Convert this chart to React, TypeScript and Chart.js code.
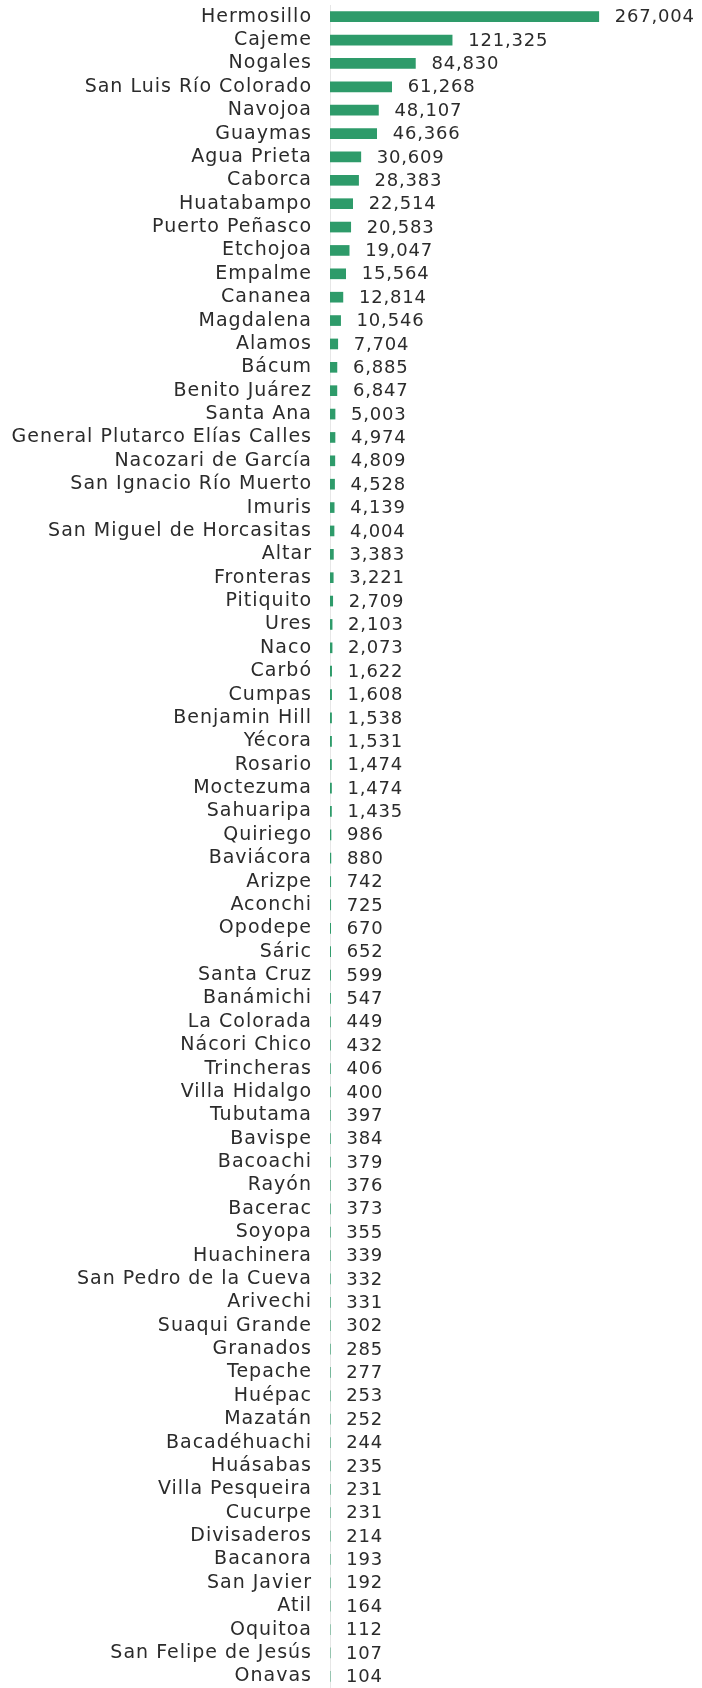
import React, { useEffect, useRef } from "react";
import { Chart, registerables } from "chart.js";

Chart.register(...registerables);

const municipios: string[] = [
  "Hermosillo", "Cajeme", "Nogales", "San Luis Río Colorado", "Navojoa", "Guaymas",
  "Agua Prieta", "Caborca", "Huatabampo", "Puerto Peñasco", "Etchojoa", "Empalme",
  "Cananea", "Magdalena", "Alamos", "Bácum", "Benito Juárez", "Santa Ana",
  "General Plutarco Elías Calles", "Nacozari de García", "San Ignacio Río Muerto", "Imuris",
  "San Miguel de Horcasitas", "Altar", "Fronteras", "Pitiquito", "Ures", "Naco",
  "Carbó", "Cumpas", "Benjamin Hill", "Yécora", "Rosario", "Moctezuma",
  "Sahuaripa", "Quiriego", "Baviácora", "Arizpe", "Aconchi", "Opodepe",
  "Sáric", "Santa Cruz", "Banámichi", "La Colorada", "Nácori Chico", "Trincheras",
  "Villa Hidalgo", "Tubutama", "Bavispe", "Bacoachi", "Rayón", "Bacerac",
  "Soyopa", "Huachinera", "San Pedro de la Cueva", "Arivechi", "Suaqui Grande", "Granados",
  "Tepache", "Huépac", "Mazatán", "Bacadéhuachi", "Huásabas", "Villa Pesqueira",
  "Cucurpe", "Divisaderos", "Bacanora", "San Javier", "Atil", "Oquitoa",
  "San Felipe de Jesús", "Onavas",
];

const poblacion: number[] = [
  267004, 121325, 84830, 61268, 48107, 46366,
  30609, 28383, 22514, 20583, 19047, 15564,
  12814, 10546, 7704, 6885, 6847, 5003,
  4974, 4809, 4528, 4139, 4004, 3383,
  3221, 2709, 2103, 2073, 1622, 1608,
  1538, 1531, 1474, 1474, 1435, 986,
  880, 742, 725, 670, 652, 599,
  547, 449, 432, 406, 400, 397,
  384, 379, 376, 373, 355, 339,
  332, 331, 302, 285, 277, 253,
  252, 244, 235, 231, 231, 214,
  193, 192, 164, 112, 107, 104,
];

const BAR_COLOR = "#2e9b6a";
const TEXT_COLOR = "#2b2b2b";
const FONT_FAMILY = '"DejaVu Sans", sans-serif';

const fmt = (v: number) => v.toLocaleString("en-US");

const spacingPlugin = {
  id: "spacing",
  beforeDraw(chart: any) {
    chart.ctx.letterSpacing = "1px";
  },
};

const valueLabels = {
  id: "valueLabels",
  afterDatasetsDraw(chart: any) {
    const ctx = chart.ctx;
    const meta = chart.getDatasetMeta(0);
    ctx.save();
    ctx.font = `18px ${FONT_FAMILY}`;
    ctx.letterSpacing = "0.8px";
    ctx.fillStyle = TEXT_COLOR;
    ctx.textAlign = "left";
    ctx.textBaseline = "middle";
    meta.data.forEach((bar: any, i: number) => {
      ctx.fillText(fmt(poblacion[i]), bar.x + 16, bar.y + 1);
    });
    ctx.restore();
  },
};

export default function App() {
  const ref = useRef<HTMLCanvasElement | null>(null);

  useEffect(() => {
    if (!ref.current) return;
    const chart = new Chart(ref.current, {
      type: "bar",
      data: {
        labels: municipios,
        datasets: [
          {
            data: poblacion,
            backgroundColor: BAR_COLOR,
            barThickness: 10,
            borderWidth: 0,
          },
        ],
      },
      options: {
        indexAxis: "y",
        animation: false,
        responsive: false,
        devicePixelRatio: 1,
        layout: { padding: { top: 5, bottom: 0, left: 0, right: 70 } },
        plugins: {
          legend: { display: false },
          tooltip: { enabled: false },
        },
        scales: {
          x: {
            display: false,
            min: 0,
            max: 300000,
          },
          y: {
            afterFit(scale: any) {
              scale.width = 330;
              scale.paddingTop = 0;
              scale.paddingBottom = 0;
            },
            grid: { display: false, drawTicks: false },
            border: { display: true, color: "#e6e6e6", width: 1 },
            ticks: {
              autoSkip: false,
              padding: 18,
              color: TEXT_COLOR,
              font: { family: FONT_FAMILY, size: 19 },
            },
          },
        },
      },
      plugins: [spacingPlugin, valueLabels],
    });
    return () => chart.destroy();
  }, []);

  return (
    <div style={{ position: "absolute", left: 0, top: 0, width: 702, height: 1688, background: "#fff" }}>
      <canvas ref={ref} width={702} height={1688} style={{ display: "block", width: 702, height: 1688 }} />
    </div>
  );
}
